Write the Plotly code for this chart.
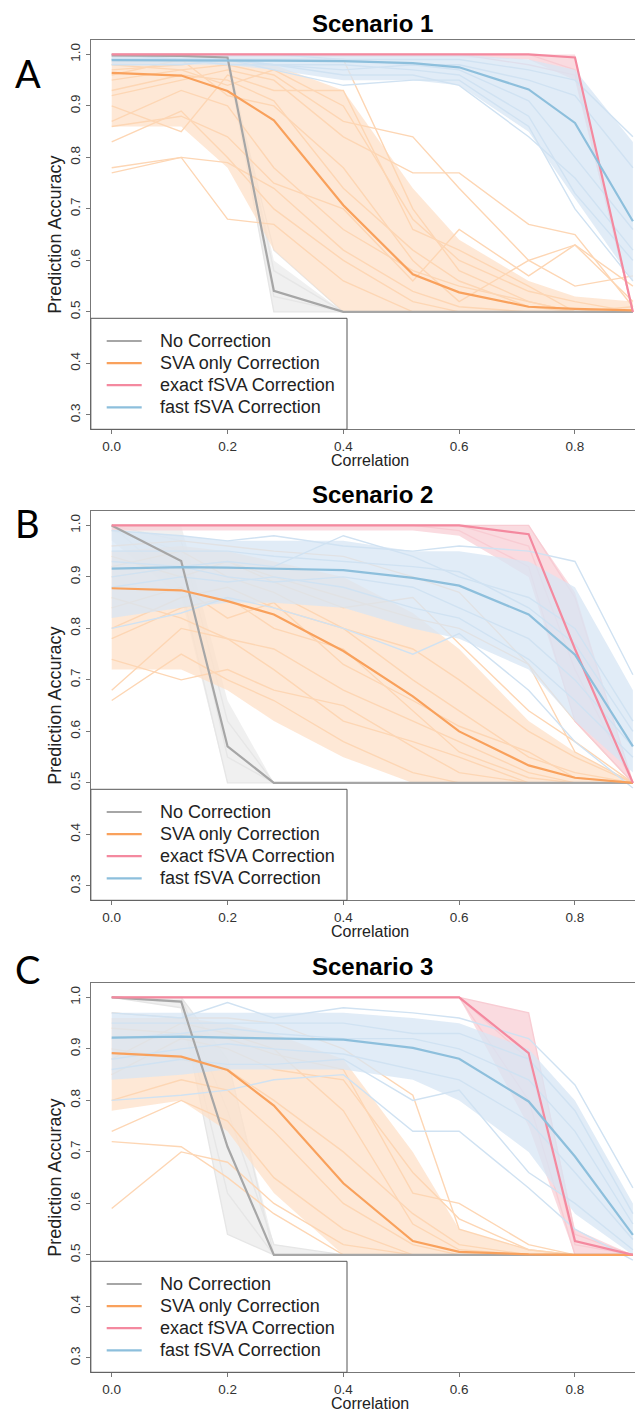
import plotly.graph_objects as go

# ---------------- data ----------------
CORRELATION = [0, 0.12, 0.2, 0.28, 0.4, 0.52, 0.6, 0.72, 0.8, 0.9]
METHODS = ["No Correction", "SVA only Correction", "exact fSVA Correction", "fast fSVA Correction"]
SCENARIOS = ["Scenario 1", "Scenario 2", "Scenario 3"]
PANEL_LETTERS = ["A", "B", "C"]
X_TICKS = [0, 0.2, 0.4, 0.6, 0.8]
X_TICK_LABELS = ["0.0", "0.2", "0.4", "0.6", "0.8"]
Y_TICKS = [0.3, 0.4, 0.5, 0.6, 0.7, 0.8, 0.9, 1.0]
Y_TICK_LABELS = ["0.3", "0.4", "0.5", "0.6", "0.7", "0.8", "0.9", "1.0"]

# ----- Scenario 1 -----
S1_NOCORR_MEAN = [0.998, 0.997, 0.994, 0.541, 0.500, 0.500, 0.500, 0.500, 0.500, 0.500]
S1_NOCORR_LO = [0.985, 0.985, 0.980, 0.500, 0.500, 0.500, 0.500, 0.500, 0.500, 0.500]
S1_NOCORR_HI = [1.000, 1.000, 1.000, 0.600, 0.500, 0.500, 0.500, 0.500, 0.500, 0.500]
S1_NOCORR_REPS = [
    [1.00, 1.00, 0.99, 0.50, 0.50, 0.50, 0.50, 0.50, 0.50, 0.50],
    [1.00, 1.00, 1.00, 0.58, 0.50, 0.50, 0.50, 0.50, 0.50, 0.50],
    [0.99, 0.99, 0.98, 0.62, 0.50, 0.50, 0.50, 0.50, 0.50, 0.50],
    [1.00, 0.99, 1.00, 0.53, 0.50, 0.50, 0.50, 0.50, 0.50, 0.50],
]
S1_SVA_MEAN = [0.964, 0.959, 0.929, 0.872, 0.707, 0.573, 0.538, 0.510, 0.506, 0.503]
S1_SVA_LO = [0.86, 0.86, 0.78, 0.62, 0.50, 0.50, 0.50, 0.50, 0.50, 0.50]
S1_SVA_HI = [0.99, 0.99, 0.99, 0.98, 0.93, 0.74, 0.64, 0.56, 0.53, 0.52]
S1_SVA_REPS = [
    [0.77, 0.80, 0.79, 0.74, 0.62, 0.54, 0.51, 0.50, 0.50, 0.50],
    [0.78, 0.80, 0.68, 0.67, 0.56, 0.50, 0.50, 0.50, 0.50, 0.50],
    [0.83, 0.89, 0.80, 0.70, 0.60, 0.52, 0.50, 0.50, 0.50, 0.50],
    [0.87, 0.93, 0.90, 0.78, 0.66, 0.58, 0.55, 0.52, 0.50, 0.50],
    [0.92, 0.95, 0.97, 0.95, 0.84, 0.77, 0.77, 0.67, 0.65, 0.51],
    [0.95, 0.97, 0.98, 0.96, 0.87, 0.84, 0.74, 0.60, 0.63, 0.52],
    [0.97, 0.98, 0.99, 0.99, 0.99, 0.70, 0.58, 0.52, 0.50, 0.50],
    [0.90, 0.85, 0.96, 0.93, 0.93, 0.66, 0.62, 0.55, 0.50, 0.51],
    [0.86, 0.88, 0.84, 0.75, 0.70, 0.56, 0.66, 0.57, 0.63, 0.55],
    [0.96, 0.99, 0.92, 0.90, 0.78, 0.60, 0.52, 0.60, 0.55, 0.57],
    [0.93, 0.96, 0.95, 0.91, 0.74, 0.62, 0.56, 0.51, 0.50, 0.50],
    [0.98, 0.97, 0.94, 0.97, 0.90, 0.68, 0.60, 0.54, 0.52, 0.50],
]
S1_EXACT_MEAN = [1.000, 1.000, 1.000, 1.000, 1.000, 1.000, 1.000, 1.000, 0.994, 0.500]
S1_EXACT_LO = [0.995, 0.995, 0.995, 0.995, 0.995, 0.995, 0.995, 0.990, 0.950, 0.500]
S1_EXACT_HI = [1.000, 1.000, 1.000, 1.000, 1.000, 1.000, 1.000, 1.000, 1.000, 0.500]
S1_EXACT_REPS = [
    [1.00, 1.00, 1.00, 1.00, 1.00, 1.00, 1.00, 1.00, 0.97, 0.50],
    [1.00, 1.00, 1.00, 1.00, 1.00, 1.00, 1.00, 0.98, 0.96, 0.50],
]
S1_FAST_MEAN = [0.989, 0.989, 0.988, 0.988, 0.987, 0.983, 0.975, 0.932, 0.867, 0.676]
S1_FAST_LO = [0.98, 0.98, 0.98, 0.97, 0.95, 0.95, 0.94, 0.85, 0.72, 0.56]
S1_FAST_HI = [1.00, 1.00, 1.00, 1.00, 1.00, 1.00, 1.00, 0.99, 0.97, 0.83]
S1_FAST_REPS = [
    [0.99, 0.99, 0.99, 0.97, 0.94, 0.95, 0.95, 0.86, 0.70, 0.56],
    [0.98, 0.98, 0.99, 0.98, 0.96, 0.96, 0.94, 0.84, 0.76, 0.62],
    [1.00, 1.00, 1.00, 1.00, 0.99, 0.99, 0.99, 0.97, 0.95, 0.84],
    [0.99, 0.99, 0.98, 0.98, 0.97, 0.98, 0.97, 0.91, 0.80, 0.66],
    [1.00, 0.99, 0.99, 0.99, 0.99, 0.98, 0.98, 0.95, 0.92, 0.78],
    [0.99, 0.99, 0.99, 0.98, 0.98, 0.97, 0.96, 0.88, 0.73, 0.60],
]

# ----- Scenario 2 -----
S2_NOCORR_MEAN = [1.000, 0.931, 0.571, 0.500, 0.500, 0.500, 0.500, 0.500, 0.500, 0.500]
S2_NOCORR_LO = [0.97, 0.86, 0.50, 0.50, 0.50, 0.50, 0.50, 0.50, 0.50, 0.50]
S2_NOCORR_HI = [1.00, 1.00, 0.66, 0.50, 0.50, 0.50, 0.50, 0.50, 0.50, 0.50]
S2_NOCORR_REPS = [
    [1.00, 0.97, 0.62, 0.50, 0.50, 0.50, 0.50, 0.50, 0.50, 0.50],
    [1.00, 0.88, 0.50, 0.50, 0.50, 0.50, 0.50, 0.50, 0.50, 0.50],
    [0.99, 0.95, 0.55, 0.50, 0.50, 0.50, 0.50, 0.50, 0.50, 0.50],
]
S2_SVA_MEAN = [0.878, 0.874, 0.853, 0.827, 0.756, 0.668, 0.600, 0.534, 0.510, 0.500]
S2_SVA_LO = [0.72, 0.72, 0.68, 0.62, 0.55, 0.50, 0.50, 0.50, 0.50, 0.50]
S2_SVA_HI = [0.95, 0.96, 0.95, 0.93, 0.90, 0.83, 0.76, 0.62, 0.56, 0.50]
S2_SVA_REPS = [
    [0.66, 0.75, 0.70, 0.66, 0.58, 0.52, 0.50, 0.50, 0.50, 0.50],
    [0.68, 0.80, 0.78, 0.72, 0.62, 0.58, 0.55, 0.50, 0.50, 0.50],
    [0.96, 0.97, 0.96, 0.95, 0.94, 0.90, 0.87, 0.73, 0.62, 0.50],
    [0.90, 0.92, 0.93, 0.90, 0.86, 0.82, 0.80, 0.73, 0.56, 0.50],
    [0.80, 0.86, 0.88, 0.84, 0.80, 0.70, 0.64, 0.55, 0.52, 0.50],
    [0.86, 0.82, 0.78, 0.76, 0.68, 0.62, 0.58, 0.52, 0.50, 0.50],
    [0.92, 0.95, 0.90, 0.87, 0.80, 0.76, 0.70, 0.60, 0.55, 0.50],
    [0.74, 0.70, 0.72, 0.68, 0.65, 0.57, 0.52, 0.50, 0.50, 0.50],
    [0.84, 0.88, 0.82, 0.85, 0.73, 0.66, 0.61, 0.56, 0.51, 0.50],
    [0.94, 0.90, 0.93, 0.89, 0.84, 0.86, 0.77, 0.64, 0.58, 0.50],
    [0.78, 0.84, 0.86, 0.80, 0.76, 0.64, 0.56, 0.51, 0.50, 0.50],
]
S2_EXACT_MEAN = [1.000, 1.000, 1.000, 1.000, 1.000, 1.000, 1.000, 0.983, 0.760, 0.500]
S2_EXACT_LO = [0.99, 0.99, 0.99, 0.99, 0.99, 0.99, 0.98, 0.90, 0.62, 0.50]
S2_EXACT_HI = [1.00, 1.00, 1.00, 1.00, 1.00, 1.00, 1.00, 1.00, 0.87, 0.50]
S2_EXACT_REPS = [
    [1.00, 1.00, 1.00, 1.00, 1.00, 1.00, 1.00, 1.00, 0.86, 0.50],
    [1.00, 1.00, 1.00, 1.00, 1.00, 1.00, 0.99, 0.92, 0.62, 0.50],
    [1.00, 1.00, 1.00, 1.00, 1.00, 1.00, 1.00, 0.96, 0.72, 0.50],
]
S2_FAST_MEAN = [0.916, 0.919, 0.918, 0.916, 0.913, 0.898, 0.883, 0.827, 0.749, 0.571]
S2_FAST_LO = [0.82, 0.84, 0.85, 0.85, 0.84, 0.80, 0.78, 0.72, 0.62, 0.52]
S2_FAST_HI = [0.99, 0.98, 0.97, 0.97, 0.97, 0.95, 0.95, 0.93, 0.88, 0.68]
S2_FAST_REPS = [
    [0.80, 0.83, 0.86, 0.84, 0.80, 0.75, 0.79, 0.68, 0.58, 0.49],
    [0.99, 0.98, 0.97, 0.98, 0.96, 0.95, 0.96, 0.95, 0.93, 0.71],
    [0.93, 0.92, 0.93, 0.92, 0.98, 0.94, 0.90, 0.86, 0.80, 0.62],
    [0.88, 0.90, 0.89, 0.90, 0.88, 0.84, 0.82, 0.74, 0.66, 0.55],
    [0.95, 0.95, 0.95, 0.94, 0.93, 0.92, 0.91, 0.84, 0.77, 0.60],
    [0.90, 0.92, 0.90, 0.89, 0.90, 0.88, 0.84, 0.78, 0.70, 0.57],
]

# ----- Scenario 3 -----
S3_NOCORR_MEAN = [1.000, 0.992, 0.710, 0.500, 0.500, 0.500, 0.500, 0.500, 0.500, 0.500]
S3_NOCORR_LO = [1.00, 0.98, 0.54, 0.50, 0.50, 0.50, 0.50, 0.50, 0.50, 0.50]
S3_NOCORR_HI = [1.00, 1.00, 0.88, 0.52, 0.50, 0.50, 0.50, 0.50, 0.50, 0.50]
S3_NOCORR_REPS = [
    [1.00, 1.00, 0.88, 0.50, 0.50, 0.50, 0.50, 0.50, 0.50, 0.50],
    [1.00, 0.98, 0.54, 0.50, 0.50, 0.50, 0.50, 0.50, 0.50, 0.50],
    [1.00, 0.99, 0.62, 0.50, 0.50, 0.50, 0.50, 0.50, 0.50, 0.50],
    [1.00, 1.00, 0.78, 0.52, 0.50, 0.50, 0.50, 0.50, 0.50, 0.50],
]
S3_SVA_MEAN = [0.892, 0.885, 0.859, 0.790, 0.639, 0.527, 0.506, 0.501, 0.500, 0.500]
S3_SVA_LO = [0.78, 0.80, 0.74, 0.62, 0.50, 0.50, 0.50, 0.50, 0.50, 0.50]
S3_SVA_HI = [0.96, 0.96, 0.95, 0.93, 0.88, 0.70, 0.55, 0.51, 0.50, 0.50]
S3_SVA_REPS = [
    [0.59, 0.70, 0.68, 0.60, 0.52, 0.50, 0.50, 0.50, 0.50, 0.50],
    [0.72, 0.71, 0.65, 0.58, 0.50, 0.50, 0.50, 0.50, 0.50, 0.50],
    [0.74, 0.80, 0.76, 0.65, 0.55, 0.50, 0.50, 0.50, 0.50, 0.50],
    [0.97, 0.96, 0.96, 0.95, 0.90, 0.81, 0.55, 0.51, 0.50, 0.50],
    [0.85, 0.92, 0.90, 0.86, 0.84, 0.66, 0.57, 0.51, 0.50, 0.50],
    [0.90, 0.88, 0.86, 0.80, 0.70, 0.58, 0.52, 0.50, 0.50, 0.50],
    [0.94, 0.93, 0.92, 0.89, 0.86, 0.62, 0.60, 0.52, 0.50, 0.50],
    [0.80, 0.84, 0.82, 0.74, 0.60, 0.52, 0.50, 0.50, 0.50, 0.50],
    [0.88, 0.95, 0.93, 0.90, 0.78, 0.56, 0.51, 0.50, 0.50, 0.50],
]
S3_EXACT_MEAN = [1.000, 1.000, 1.000, 1.000, 1.000, 1.000, 1.000, 0.892, 0.527, 0.500]
S3_EXACT_LO = [1.00, 1.00, 1.00, 1.00, 1.00, 1.00, 1.00, 0.75, 0.50, 0.50]
S3_EXACT_HI = [1.00, 1.00, 1.00, 1.00, 1.00, 1.00, 1.00, 0.97, 0.55, 0.50]
S3_EXACT_REPS = [
    [1.00, 1.00, 1.00, 1.00, 1.00, 1.00, 1.00, 0.97, 0.54, 0.50],
    [1.00, 1.00, 1.00, 1.00, 1.00, 1.00, 1.00, 0.80, 0.50, 0.50],
    [1.00, 1.00, 1.00, 1.00, 1.00, 1.00, 1.00, 0.88, 0.52, 0.50],
]
S3_FAST_MEAN = [0.922, 0.924, 0.922, 0.920, 0.918, 0.902, 0.881, 0.798, 0.691, 0.539]
S3_FAST_LO = [0.84, 0.85, 0.86, 0.86, 0.86, 0.84, 0.80, 0.70, 0.58, 0.50]
S3_FAST_HI = [0.97, 0.97, 0.97, 0.97, 0.97, 0.96, 0.95, 0.90, 0.80, 0.60]
S3_FAST_REPS = [
    [0.80, 0.81, 0.82, 0.84, 0.85, 0.74, 0.74, 0.63, 0.55, 0.49],
    [0.97, 0.96, 0.99, 0.96, 0.98, 0.97, 0.96, 0.92, 0.83, 0.63],
    [0.86, 0.88, 0.87, 0.87, 0.88, 0.80, 0.82, 0.66, 0.60, 0.51],
    [0.92, 0.93, 0.94, 0.93, 0.92, 0.92, 0.90, 0.84, 0.74, 0.56],
    [0.95, 0.95, 0.95, 0.95, 0.95, 0.93, 0.93, 0.88, 0.78, 0.58],
    [0.88, 0.90, 0.91, 0.90, 0.89, 0.86, 0.84, 0.76, 0.66, 0.53],
]

PANELS = [
    {
        "nocorr": (S1_NOCORR_MEAN, S1_NOCORR_LO, S1_NOCORR_HI, S1_NOCORR_REPS),
        "sva": (S1_SVA_MEAN, S1_SVA_LO, S1_SVA_HI, S1_SVA_REPS),
        "exact": (S1_EXACT_MEAN, S1_EXACT_LO, S1_EXACT_HI, S1_EXACT_REPS),
        "fast": (S1_FAST_MEAN, S1_FAST_LO, S1_FAST_HI, S1_FAST_REPS),
    },
    {
        "nocorr": (S2_NOCORR_MEAN, S2_NOCORR_LO, S2_NOCORR_HI, S2_NOCORR_REPS),
        "sva": (S2_SVA_MEAN, S2_SVA_LO, S2_SVA_HI, S2_SVA_REPS),
        "exact": (S2_EXACT_MEAN, S2_EXACT_LO, S2_EXACT_HI, S2_EXACT_REPS),
        "fast": (S2_FAST_MEAN, S2_FAST_LO, S2_FAST_HI, S2_FAST_REPS),
    },
    {
        "nocorr": (S3_NOCORR_MEAN, S3_NOCORR_LO, S3_NOCORR_HI, S3_NOCORR_REPS),
        "sva": (S3_SVA_MEAN, S3_SVA_LO, S3_SVA_HI, S3_SVA_REPS),
        "exact": (S3_EXACT_MEAN, S3_EXACT_LO, S3_EXACT_HI, S3_EXACT_REPS),
        "fast": (S3_FAST_MEAN, S3_FAST_LO, S3_FAST_HI, S3_FAST_REPS),
    },
]

# ---------------- style ----------------
KEYS = ["nocorr", "sva", "exact", "fast"]
MEAN_COLOR = {"nocorr": "#a6a6a6", "sva": "#f9a15c", "exact": "#f4899f", "fast": "#8dbfdc"}
FAINT_COLOR = {"nocorr": "#e6e6e6", "sva": "#fdd6b4", "exact": "#f8ccd3", "fast": "#d0e2f2"}
BAND_COLOR = {"nocorr": "rgba(236,236,236,0.8)", "sva": "rgba(253,224,200,0.75)",
              "exact": "rgba(249,210,216,0.8)", "fast": "rgba(215,230,244,0.75)"}

# The page body has an 8px default margin: the figure is sized and placed to fill
# the 643x1410 window exactly from (8, 8).
PAGE_W, PAGE_H, BODY_MARGIN = 643, 1410, 8
W, H = PAGE_W - BODY_MARGIN, PAGE_H - BODY_MARGIN
OFFSETS = [0, 471, 943]
BOX_L, BOX_T, BOX_B = 90.85, 40.0, 429.3
PX0, PX_PER_UNIT = 111.7, 579.1
X_RANGE = [-(PX0 - BOX_L) / PX_PER_UNIT, (PAGE_W - PX0) / PX_PER_UNIT]
Y_RANGE = [0.272, 1.028]
FONT = "Liberation Sans, Arial, sans-serif"


def px(x):
    return (x - BODY_MARGIN) / W


def py(y):
    return 1 - (y - BODY_MARGIN) / H


fig = go.Figure()
annotations = []
shapes = []

for i, panel in enumerate(PANELS):
    off = OFFSETS[i]
    sfx = "" if i == 0 else str(i + 1)
    xa, ya = "x" + sfx, "y" + sfx
    for k in KEYS:
        mean, lo, hi, reps = panel[k]
        fig.add_trace(go.Scatter(
            x=CORRELATION + CORRELATION[::-1], y=hi + lo[::-1], fill="toself",
            fillcolor=BAND_COLOR[k], line=dict(width=0), mode="lines",
            hoverinfo="skip", showlegend=False, xaxis=xa, yaxis=ya))
        for r in reps:
            fig.add_trace(go.Scatter(
                x=CORRELATION, y=r, mode="lines",
                line=dict(color=FAINT_COLOR[k], width=1.4),
                hoverinfo="skip", showlegend=False, xaxis=xa, yaxis=ya))
    for k in KEYS:
        mean = panel[k][0]
        fig.add_trace(go.Scatter(
            x=CORRELATION, y=mean, mode="lines",
            line=dict(color=MEAN_COLOR[k], width=2.2),
            name=METHODS[KEYS.index(k)], showlegend=False, xaxis=xa, yaxis=ya))

    axis_common = dict(showgrid=False, zeroline=False, showline=True, linecolor="#777777",
                       linewidth=1, ticks="outside", ticklen=4, tickcolor="#777777",
                       tickfont=dict(family=FONT, size=13.5, color="#333333"))
    fig.layout["xaxis" + sfx] = dict(
        domain=[px(BOX_L), 1.0], range=X_RANGE, anchor=ya, mirror=True,
        tickvals=X_TICKS, ticktext=X_TICK_LABELS, **axis_common)
    fig.layout["yaxis" + sfx] = dict(
        domain=[py(BOX_B + off), py(BOX_T + off)], range=Y_RANGE, anchor=xa,
        tickvals=Y_TICKS, ticktext=Y_TICK_LABELS, tickangle=-90, **axis_common)

    annotations.append(dict(x=px(372), y=py(off + 23.5), xref="paper", yref="paper",
                            text="<b>" + SCENARIOS[i] + "</b>", showarrow=False,
                            xanchor="center", yanchor="middle",
                            font=dict(family=FONT, size=24, color="#000000")))
    letter_y = [73, 523, 969][i]
    annotations.append(dict(x=px(27.5), y=py(letter_y), xref="paper", yref="paper",
                            text=PANEL_LETTERS[i], showarrow=False,
                            xanchor="center", yanchor="middle",
                            font=dict(family="Lato, Open Sans, sans-serif", size=38, color="#000000")))
    annotations.append(dict(x=px(370), y=py(off + 460.5), xref="paper", yref="paper",
                            text="Correlation", showarrow=False,
                            xanchor="center", yanchor="middle",
                            font=dict(family=FONT, size=16, color="#222222")))
    annotations.append(dict(x=px(55), y=py(off + (BOX_T + BOX_B) / 2), xref="paper", yref="paper",
                            text="Prediction Accuracy", showarrow=False, textangle=-90,
                            xanchor="center", yanchor="middle",
                            font=dict(family=FONT, size=18, color="#222222")))

    shapes.append(dict(type="rect", xref="paper", yref="paper",
                       x0=px(BOX_L), x1=px(347), y0=py(off + 429.3), y1=py(off + 318.3),
                       fillcolor="white", line=dict(color="#555555", width=1), layer="above"))
    for j, k in enumerate(KEYS):
        ly = off + 341 + j * 22.1
        shapes.append(dict(type="line", xref="paper", yref="paper",
                           x0=px(106.7), x1=px(141.7), y0=py(ly), y1=py(ly),
                           line=dict(color=MEAN_COLOR[k], width=2.2), layer="above"))
        annotations.append(dict(x=px(158), y=py(ly), xref="paper", yref="paper",
                                text=METHODS[j], showarrow=False,
                                xanchor="left", yanchor="middle",
                                font=dict(family=FONT, size=18, color="#222222")))

fig.update_layout(
    width=W, height=H, autosize=False,
    margin=dict(l=0, r=0, t=0, b=0, pad=0),
    paper_bgcolor="white", plot_bgcolor="white",
    showlegend=False,
    annotations=annotations, shapes=shapes,
)

fig.write_html("out.html")
